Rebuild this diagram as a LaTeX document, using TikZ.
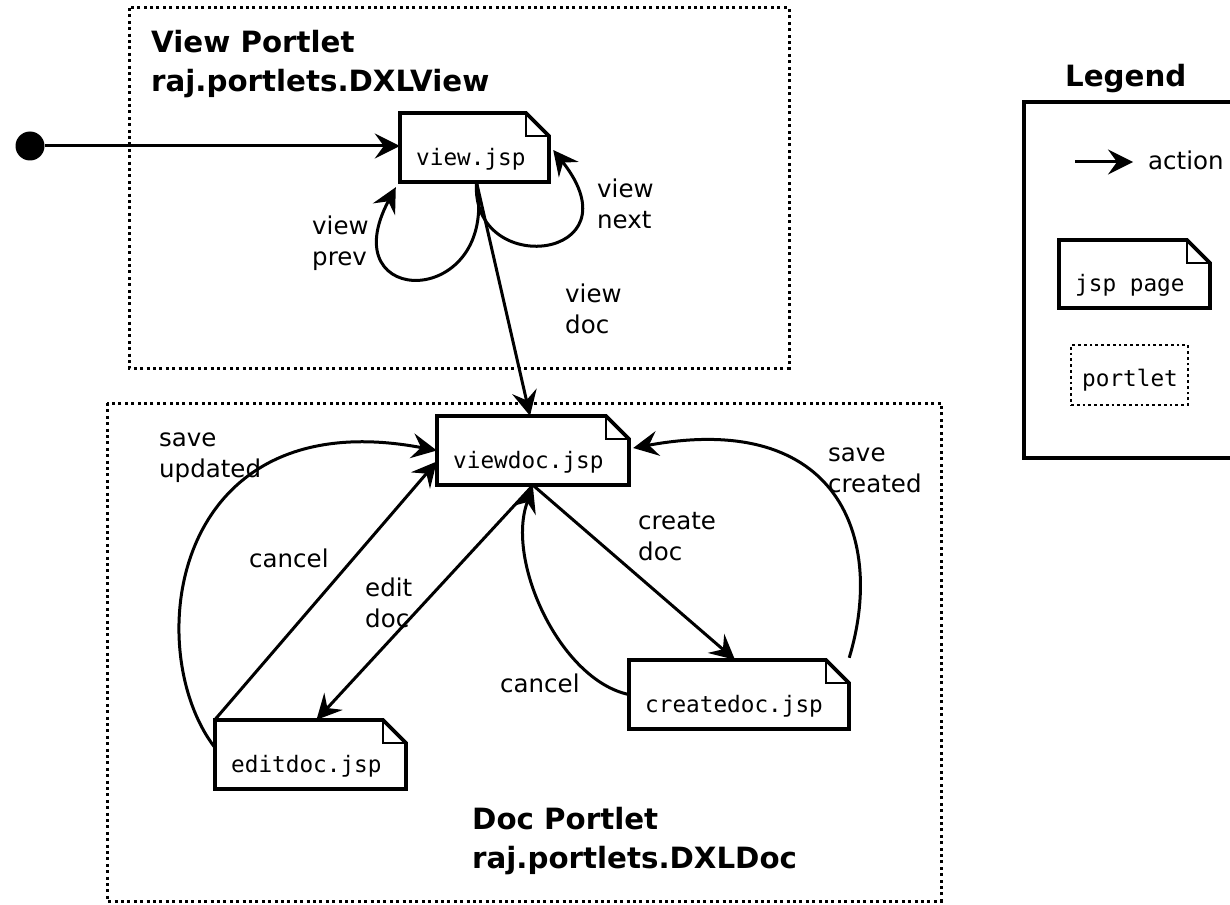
\documentclass[tikz,border=0pt]{standalone}
\usepackage{fontspec}
\setmainfont{DejaVu Sans}
\newfontfamily\monof{DejaVu Sans Mono}
\usetikzlibrary{arrows.meta,calc}
\tikzset{
  act/.style={line width=3pt, -{Stealth[length=25pt,width=25pt,inset=9pt]}},
  portlet/.style={line width=3pt, dash pattern=on 3pt off 3.4pt},
  smallportlet/.style={line width=2.8pt, dash pattern=on 2.8pt off 3pt},
  pagebox/.style={draw=none, inner sep=0pt, rectangle},
  pageline/.style={line width=3.8pt, line join=miter},
  foldline/.style={line width=2.2pt},
  lbl/.style={font=\fontsize{24.5}{31}\selectfont, align=left, anchor=base west, inner sep=0pt},
  ttl/.style={font=\fontsize{29.3}{39}\selectfont\bfseries, align=left, anchor=base west, inner sep=0pt},
  mono/.style={font=\fontsize{22.7}{27}\selectfont\monof, anchor=base west, inner sep=0pt},
}
\newcommand\jspage[6]{%
  \node[pagebox, minimum width={(#4-#2)*1pt}, minimum height={(#5-#3)*1pt}] (#1) at ({(#2+#4)/2},{(#3+#5)/2}) {};
  \draw[pageline] (#2,#5) -- (#2,#3) -- ({#4-23},#3) -- (#4,{#3+23}) -- (#4,#5) -- cycle;
  \draw[foldline] ({#4-23},#3) -- ({#4-23},{#3+23}) -- (#4,{#3+23});
  \node[mono] (#1-label) at ({#2+16},{#5-17}) {#6};
}
\begin{document}
\begin{tikzpicture}[x=1pt,y=-1pt]
\clip (0,0) rectangle (1230,904);
\useasboundingbox (0,0) rectangle (1230,904);
\fill[white] (0,0) rectangle (1230,904);

% portlets
\draw[portlet] (129,8) rectangle (789,368);
\draw[portlet] (107,403) rectangle (941,901);
\node[ttl] (vptitle) at (151,92) {View Portlet\\raj.portlets.DXLView};
\node[ttl] (dptitle) at (472,868) {Doc Portlet\\raj.portlets.DXLDoc};

% pages
\jspage{view}{400}{113}{549}{182}{view.jsp}
\jspage{viewdoc}{437}{416}{629}{485}{viewdoc.jsp}
\jspage{createdoc}{629}{660}{849}{729}{createdoc.jsp}
\jspage{editdoc}{215}{720}{406}{789}{editdoc.jsp}

% start
\node[circle, fill=black, inner sep=0pt, minimum size=29pt] (start) at (30,146) {};
\draw[act] (start.east) -- (start.east -| view.west);

% view portlet connectors
\draw[act] ([xshift=2pt]view.south) .. controls (500,310) and (330,310) .. ([xshift=-4pt,yshift=-5pt]view.south west);
\draw[act] ([xshift=2pt]view.south) .. controls (470,280) and (640,260) .. ([xshift=4pt,yshift=-2.5pt]view.east);
\draw[act] ([xshift=2pt]view.south) -- ([xshift=-3pt]viewdoc.north);

% doc portlet connectors
\draw[act] (viewdoc.south) -- ([xshift=-4pt]createdoc.north);
\draw[act] (viewdoc.south) -- ([xshift=6pt]editdoc.north);
\draw[act] (createdoc.west) .. controls (560,680) and (505,560) .. ([yshift=-2pt]viewdoc.south);
\draw[act] (editdoc.north west) -- ([yshift=-11pt]viewdoc.west);
\draw[act] ([yshift=7pt]editdoc.west) .. controls (140,650) and (170,400) .. (viewdoc.west);
\draw[act] ([yshift=2pt]createdoc.north east) .. controls (885,540) and (840,410) .. ([xshift=4pt,yshift=2.5pt]viewdoc.east);

% labels
\node[lbl] (lprev) at (312,265) {view\\prev};
\node[lbl] (lnext) at (597,228) {view\\next};
\node[lbl] (lvdoc) at (565,333) {view\\doc};
\node[lbl] (lsu) at (159,477) {save\\updated};
\node[lbl] (lcan1) at (249,567) {cancel};
\node[lbl] (ledit) at (365,627) {edit\\doc};
\node[lbl] (lcan2) at (500,692) {cancel};
\node[lbl] (lcreate) at (638,560) {create\\doc};
\node[lbl] (lsc) at (828,492) {save\\created};

% legend
\node[ttl] (legtitle) at (1065,87) {Legend};
\draw[line width=3.6pt] (1024,102) rectangle (1260,458);
\coordinate (la1) at (1075,162);
\coordinate (la2) at (1133,162);
\draw[act] (la1) -- (la2);
\node[lbl] (legact) at (1148,169) {action};
\jspage{legjsp}{1059}{240}{1210}{308}{jsp page}
\node[draw, smallportlet, minimum width=117pt, minimum height=60pt, inner sep=0pt] (legport) at (1129.5,375) {};
\node[mono] (legportlbl) at (1082,386) {portlet};
\end{tikzpicture}
\end{document}
